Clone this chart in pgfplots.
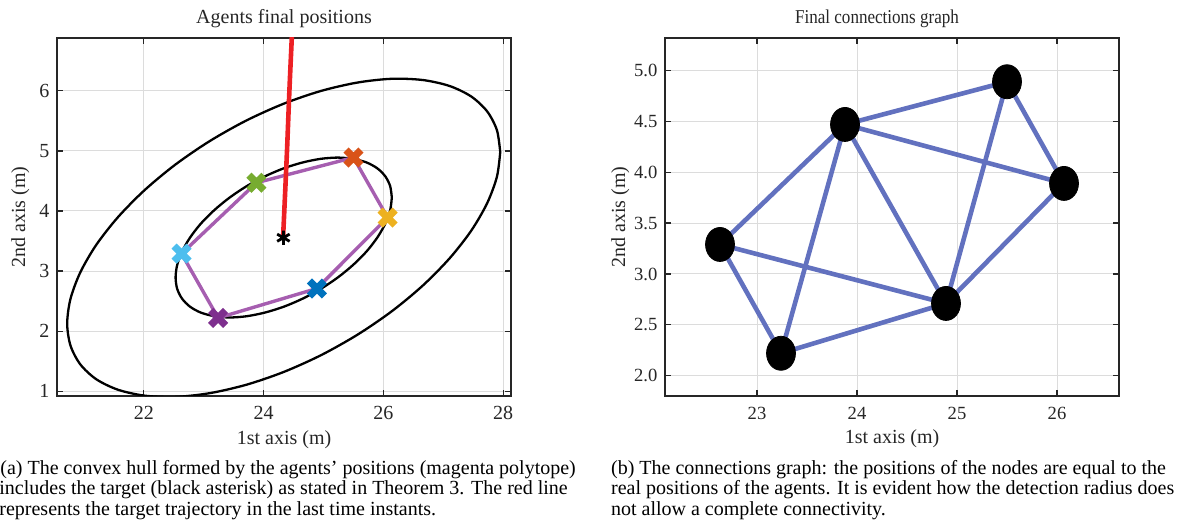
\documentclass[border=0pt]{standalone}
\usepackage{fontspec}
\setmainfont{Liberation Serif}
\newfontfamily\narrowserif[FakeStretch=0.87]{Liberation Serif}
\usepackage{pgfplots}
\pgfplotsset{compat=1.18}

\definecolor{axgray}{RGB}{38,38,38}
\definecolor{gridgray}{RGB}{220,220,220}
\definecolor{mcyan}{RGB}{77,190,238}
\definecolor{mpurple}{RGB}{126,47,142}
\definecolor{mgreen}{RGB}{119,172,48}
\definecolor{mblue}{RGB}{0,114,189}
\definecolor{morange}{RGB}{217,83,25}
\definecolor{myellow}{RGB}{237,177,32}
\definecolor{polycol}{RGB}{166,94,176}
\definecolor{trajred}{RGB}{237,32,36}
\definecolor{edgecol}{RGB}{98,113,191}

\pgfplotsset{
  matlab/.style={
    scale only axis, width=227pt, height=179pt, anchor=south west,
    grid=major, major grid style={gridgray, line width=0.5pt},
    axis line style={axgray, line width=0.8pt},
    tick style={axgray, line width=0.6pt}, major tick length=3pt,
    /pgf/number format/assume math mode=true,
    tick label style={text=axgray},
    xticklabel style={anchor=base, yshift=-11.7pt},
    yticklabel style={anchor=east, inner sep=0pt, xshift=-3.6pt},
  },
  agent/.style={only marks, mark=x, mark size=5.3pt, line width=3.6pt},
  edge/.style={edgecol, line width=2.3pt},
}

\begin{document}
\begin{tikzpicture}
\useasboundingbox (0,0) rectangle (588.5pt,264.5pt);

% ---------- (a) agents final positions ----------
\begin{axis}[matlab, at={(28.5pt,66.5pt)},
  xmin=20.55, xmax=28.13, ymin=0.92, ymax=6.88,
  xtick={22,24,26,28}, ytick={1,2,3,4,5,6},
  tick label style={font=\fontsize{10}{12}\selectfont},
]
% outer ellipse
\addplot[black, line width=1.15pt, smooth] coordinates {
(27.950,4.980) (27.895,5.346) (27.732,5.658) (27.466,5.906) (27.104,6.081)
(26.659,6.180) (26.143,6.201) (25.571,6.139) (24.963,6.000) (24.335,5.786)
(23.707,5.504) (23.099,5.163) (22.527,4.773) (22.011,4.346) (21.566,3.895)
(21.204,3.434) (20.938,2.976) (20.775,2.536) (20.720,2.126) (20.775,1.760)
(20.938,1.448) (21.204,1.200) (21.566,1.025) (22.011,0.926) (22.527,0.905)
(23.099,0.967) (23.707,1.106) (24.335,1.320) (24.963,1.602) (25.571,1.943)
(26.143,2.333) (26.659,2.760) (27.104,3.211) (27.466,3.672) (27.732,4.130)
(27.895,4.570) (27.950,4.980)};
% inner ellipse
\addplot[black, line width=1.15pt, smooth] coordinates {
(26.140,4.223) (26.113,4.413) (26.031,4.577) (25.898,4.710) (25.718,4.808)
(25.495,4.867) (25.238,4.889) (24.952,4.868) (24.648,4.807) (24.335,4.710)
(24.022,4.577) (23.718,4.414) (23.432,4.223) (23.175,4.013) (22.952,3.790)
(22.772,3.558) (22.639,3.327) (22.557,3.103) (22.530,2.893) (22.557,2.703)
(22.639,2.539) (22.772,2.406) (22.952,2.308) (23.175,2.249) (23.432,2.227)
(23.718,2.248) (24.022,2.309) (24.335,2.406) (24.648,2.539) (24.952,2.702)
(25.238,2.893) (25.495,3.103) (25.718,3.326) (25.898,3.558) (26.031,3.789)
(26.113,4.013) (26.140,4.223)};
% convex hull
\addplot[polycol, line width=1.7pt] coordinates {
(22.63,3.29) (23.88,4.47) (25.50,4.89) (26.07,3.89) (24.89,2.71) (23.24,2.22) (22.63,3.29)};
% target trajectory
\addplot[trajred, line width=2.3pt, smooth] coordinates {
(24.325,3.57) (24.345,4.00) (24.39,5.00) (24.43,6.00) (24.47,6.88) (24.48,7.10)};
\addplot[agent, mcyan]   coordinates {(22.63,3.29)};
\addplot[agent, mpurple] coordinates {(23.24,2.22)};
\addplot[agent, mgreen]  coordinates {(23.88,4.47)};
\addplot[agent, mblue]   coordinates {(24.89,2.71)};
\addplot[agent, morange] coordinates {(25.50,4.89)};
\addplot[agent, myellow] coordinates {(26.07,3.89)};
\addplot[only marks, mark=asterisk, black, mark size=3.6pt, line width=1.4pt]
  coordinates {(24.33,3.555)};
\end{axis}

% ---------- (b) connections graph ----------
\begin{axis}[matlab, at={(332.5pt,66.5pt)},
  xmin=22.08, xmax=26.62, ymin=1.8, ymax=5.32,
  xtick={23,24,25,26}, ytick={2,2.5,3,3.5,4,4.5,5},
  tick label style={font=\fontsize{9.3}{11}\selectfont},
  yticklabel style={/pgf/number format/.cd, fixed, fixed zerofill, precision=1},
]
\addplot[edge] coordinates {(22.63,3.29) (23.88,4.47)};
\addplot[edge] coordinates {(22.63,3.29) (23.24,2.22)};
\addplot[edge] coordinates {(22.63,3.29) (24.89,2.71)};
\addplot[edge] coordinates {(23.24,2.22) (23.88,4.47)};
\addplot[edge] coordinates {(23.24,2.22) (24.89,2.71)};
\addplot[edge] coordinates {(23.88,4.47) (24.89,2.71)};
\addplot[edge] coordinates {(23.88,4.47) (25.50,4.89)};
\addplot[edge] coordinates {(23.88,4.47) (26.07,3.89)};
\addplot[edge] coordinates {(24.89,2.71) (25.50,4.89)};
\addplot[edge] coordinates {(24.89,2.71) (26.07,3.89)};
\addplot[edge] coordinates {(25.50,4.89) (26.07,3.89)};
\addplot[only marks, mark=*, black, mark size=8.5pt, mark options={xscale=0.85}]
  coordinates {(22.63,3.29) (23.24,2.22) (23.88,4.47) (24.89,2.71) (25.50,4.89) (26.07,3.89)};
\end{axis}

% ---------- titles, labels and captions (pixel grid, y downwards) ----------
\begin{scope}[shift={(0pt,264.5pt)}, x=0.5pt, y=-0.5pt, inner sep=0pt, text=axgray]
\node[anchor=base, font=\fontsize{10}{12}\selectfont] at (284,23.3) {Agents final positions};
\node[anchor=base, font=\fontsize{9.8}{12}\narrowserif] at (877,24) {Final connections graph};
\node[anchor=base, font=\fontsize{10}{12}\selectfont] at (284,444.3) {1st axis (m)};
\node[anchor=base, font=\fontsize{10}{12}\selectfont] at (892,443.3) {1st axis (m)};
\node[anchor=base, rotate=90, font=\fontsize{10}{12}\selectfont] at (25,217) {2nd axis (m)};
\node[anchor=base, rotate=90, font=\fontsize{10}{12}\selectfont] at (625,217) {2nd axis (m)};
\begin{scope}[text=black, font=\fontsize{10}{12}\selectfont]
\node[anchor=base west] at (0,474.3) {(a) The convex hull formed by the agents’ positions (magenta polytope)};
\node[anchor=base west] at (-1,494.8) {includes the target (black asterisk) as stated in Theorem 3. The red line};
\node[anchor=base west] at (-1,515.2) {represents the target trajectory in the last time instants.};
\node[anchor=base west] at (610.7,474.3) {(b) The connections graph: the positions of the nodes are equal to the};
\node[anchor=base west] at (610.7,494.8) {real positions of the agents. It is evident how the detection radius does};
\node[anchor=base west] at (610.7,515.2) {not allow a complete connectivity.};
\end{scope}
\end{scope}
\end{tikzpicture}
\end{document}
